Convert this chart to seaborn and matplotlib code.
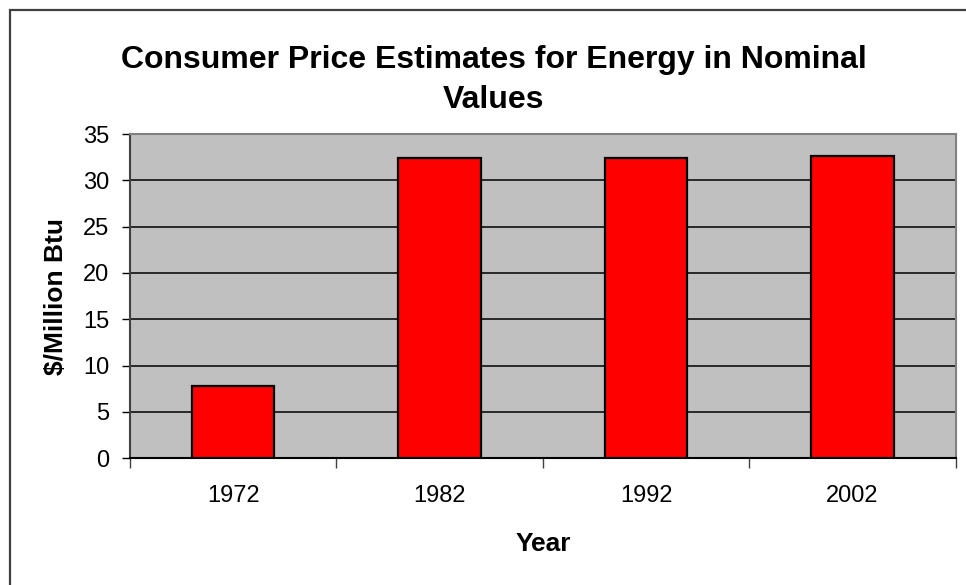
import matplotlib
matplotlib.use("Agg")
import matplotlib.pyplot as plt
from matplotlib.patches import Rectangle
from matplotlib.ticker import FixedLocator
import pandas as pd
import seaborn as sns

# Consumer price estimates for energy, nominal $/Million Btu
years = ["1972", "1982", "1992", "2002"]
prices = [7.8, 32.4, 32.4, 32.6]
y_ticks = [0, 5, 10, 15, 20, 25, 30, 35]

df = pd.DataFrame({"Year": years, "Price": prices})

sns.set_theme(style="white")
plt.rcParams["font.family"] = ["Liberation Sans", "DejaVu Sans"]
plt.rcParams["text.color"] = "black"
plt.rcParams["axes.labelcolor"] = "black"

fig = plt.figure(figsize=(9.66, 5.85), dpi=100)
ax = fig.add_axes([130 / 966, 1 - 458.3 / 585, (955.7 - 130) / 966, (458.3 - 134) / 585])
ax.set_facecolor("#C0C0C0")

sns.barplot(data=df, x="Year", y="Price", color="#FF0000", saturation=1,
            edgecolor="black", linewidth=1.6, width=0.4, ax=ax, zorder=3)

ax.set_ylim(0, 35)
ax.set_xlim(-0.5, len(years) - 0.5)
ax.set_yticks(y_ticks)
ax.yaxis.grid(True, color="black", linewidth=1.1, zorder=1)
ax.set_axisbelow(True)

# x ticks sit on category boundaries, labels at the centres
ax.xaxis.set_minor_locator(FixedLocator([i - 0.5 for i in range(len(years) + 1)]))
ax.tick_params(axis="x", which="major", length=0, pad=19, labelsize=17,
               labelcolor="black")
ax.tick_params(axis="x", which="minor", length=7, width=1, color="#404040", bottom=True)
ax.tick_params(axis="y", which="major", length=6, width=1, pad=9, labelsize=17,
               color="black", labelcolor="black", left=True)

for side in ["top", "right"]:
    ax.spines[side].set_visible(True)
    ax.spines[side].set_color("#808080")
    ax.spines[side].set_linewidth(1.5)
ax.spines["left"].set_color("#404040")
ax.spines["left"].set_linewidth(1.5)
ax.spines["bottom"].set_color("black")
ax.spines["bottom"].set_linewidth(1.5)

ax.set_xlabel("Year", fontsize=19, fontweight="bold", labelpad=18, color="black")
ax.set_ylabel("$/Million Btu", fontsize=19, fontweight="bold", labelpad=11, color="black")

fig.text(494 / 966, 1 - 80 / 585,
         "Consumer Price Estimates for Energy in Nominal\nValues",
         ha="center", va="center", fontsize=23, fontweight="bold",
         linespacing=1.45, color="black")

# chart-area frame
fig.patches.append(Rectangle((10 / 966, -0.1), 1.2, (585 - 10) / 585 + 0.1,
                             transform=fig.transFigure, fill=False,
                             edgecolor="#404040", linewidth=1.6))

fig.savefig("out.png", dpi=100)
